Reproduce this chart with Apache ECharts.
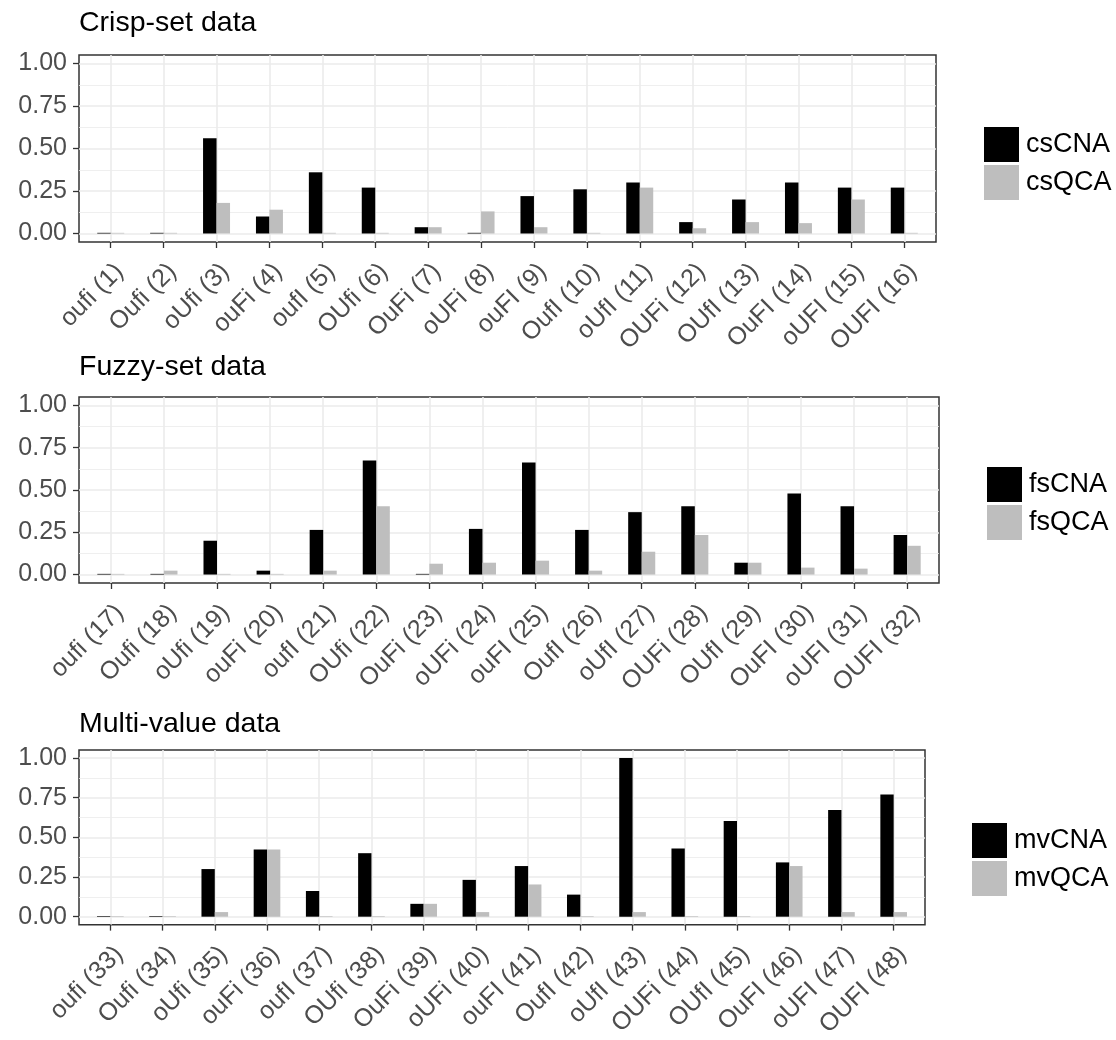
<!DOCTYPE html>
<html>
<head>
<meta charset="utf-8">
<script src="https://cdn.jsdelivr.net/npm/echarts@6.0.0/dist/echarts.min.js"></script>
<style>
html,body{margin:0;padding:0;background:#fff;}
#c{width:1116px;height:1040px;}
</style>
</head>
<body>
<div id="c"></div>
<script>
// ---- data ----
const csLabels = ['oufi (1)','Oufi (2)','oUfi (3)','ouFi (4)','oufI (5)','OUfi (6)','OuFi (7)','oUFi (8)','ouFI (9)','OufI (10)','oUfI (11)','OUFi (12)','OUfI (13)','OuFI (14)','oUFI (15)','OUFI (16)'];
const csCNA = [0.004,0.004,0.56,0.10,0.36,0.27,0.037,0.004,0.22,0.26,0.30,0.067,0.20,0.30,0.27,0.27];
const csQCA = [0.004,0.004,0.18,0.14,0.004,0.004,0.037,0.13,0.037,0.004,0.27,0.031,0.067,0.061,0.20,0.004];

const fsLabels = ['oufi (17)','Oufi (18)','oUfi (19)','ouFi (20)','oufI (21)','OUfi (22)','OuFi (23)','oUFi (24)','ouFI (25)','OufI (26)','oUfI (27)','OUFi (28)','OUfI (29)','OuFI (30)','oUFI (31)','OUFI (32)'];
const fsCNA = [0.004,0.004,0.20,0.023,0.264,0.674,0.004,0.27,0.662,0.264,0.369,0.404,0.07,0.48,0.404,0.234];
const fsQCA = [0.004,0.023,0.004,0.004,0.023,0.404,0.064,0.07,0.082,0.023,0.135,0.234,0.07,0.041,0.035,0.17];

const mvLabels = ['oufi (33)','Oufi (34)','oUfi (35)','ouFi (36)','oufI (37)','OUfi (38)','OuFi (39)','oUFi (40)','ouFI (41)','OufI (42)','oUfI (43)','OUFi (44)','OUfI (45)','OuFI (46)','oUFI (47)','OUFI (48)'];
const mvCNA = [0.004,0.004,0.30,0.423,0.162,0.40,0.081,0.232,0.319,0.139,1.0,0.429,0.602,0.342,0.672,0.77];
const mvQCA = [0.004,0.004,0.029,0.423,0.004,0.004,0.081,0.029,0.203,0.004,0.029,0.004,0.004,0.319,0.029,0.029];

const yTicks = [0, 0.25, 0.5, 0.75, 1];
const yMinor = [0.125, 0.375, 0.625, 0.875];
const titles = ['Crisp-set data','Fuzzy-set data','Multi-value data'];
const seriesNames = [['csCNA','csQCA'],['fsCNA','fsQCA'],['mvCNA','mvQCA']];

// ---- layout ----
const layout = [
  {labels: csLabels, a: csCNA, b: csQCA, top: 55, height: 187, width: 857, titleTop: 9, legLeft: 984, legTop: 127},
  {labels: fsLabels, a: fsCNA, b: fsQCA, top: 397, height: 186, width: 860, titleTop: 353, legLeft: 987, legTop: 467},
  {labels: mvLabels, a: mvCNA, b: mvQCA, top: 750, height: 189, width: 846, titleTop: 710, legLeft: 972, legTop: 823}
];

const FONT = '"Liberation Sans", Arial, Helvetica, sans-serif';
const grid = [], xAxis = [], yAxis = [], series = [], legend = [], title = [];
const grey = '#BEBEBE';

layout.forEach((p, i) => {
  const idx = p.labels.map((_, k) => k);
  grid.push({left: 79, top: p.top, width: p.width, height: p.height, show: true,
    borderColor: '#333333', borderWidth: 1.5, backgroundColor: 'transparent', containLabel: false});
  xAxis.push({
    gridIndex: i, type: 'value', min: -0.6, max: p.labels.length - 0.4, position: 'bottom',
    axisLine: {show: false, onZero: false},
    axisTick: {show: true, length: 6, customValues: idx, lineStyle: {color: '#333333', width: 1.3}},
    axisLabel: {customValues: idx, formatter: v => p.labels[Math.round(v)], rotate: 45,
      verticalAlign: 'top', align: 'right',
      fontSize: 25, color: '#4D4D4D', margin: 17, fontFamily: FONT},
    splitLine: {show: true, lineStyle: {color: '#EBEBEB', width: 1.6}}
  });
  yAxis.push({
    gridIndex: i, type: 'value', min: -0.05, max: 1.05, position: 'left',
    axisLine: {show: false, onZero: false},
    axisTick: {show: true, length: 6, customValues: yTicks, lineStyle: {color: '#333333', width: 1.3}},
    axisLabel: {customValues: yTicks, formatter: v => v.toFixed(2), fontSize: 25, color: '#4D4D4D', margin: 12, fontFamily: FONT},
    splitLine: {show: true, lineStyle: {color: '#EBEBEB', width: 1.6}}
  });
  yAxis.push({
    gridIndex: i, type: 'value', min: -0.05, max: 1.05, position: 'left',
    axisLine: {show: false, onZero: false},
    axisTick: {show: false, customValues: yMinor},
    axisLabel: {show: false, customValues: yMinor},
    splitLine: {show: true, lineStyle: {color: '#EBEBEB', width: 0.8}}
  });
  series.push({
    type: 'bar', name: seriesNames[i][0], xAxisIndex: i, yAxisIndex: 2 * i,
    data: p.a.map((v, k) => [k, v]),
    barWidth: '25.5%', barGap: '0%', itemStyle: {color: '#000000'}, emphasis: {disabled: true}
  });
  series.push({
    type: 'bar', name: seriesNames[i][1], xAxisIndex: i, yAxisIndex: 2 * i,
    data: p.b.map((v, k) => [k, v]),
    barWidth: '25.5%', barGap: '0%', itemStyle: {color: grey}, emphasis: {disabled: true}
  });
  legend.push({
    data: seriesNames[i], orient: 'vertical', left: p.legLeft, top: p.legTop, padding: 0,
    icon: 'rect', itemWidth: 35, itemHeight: 35, itemGap: 3, selectedMode: false,
    textStyle: {fontSize: 27, color: '#000000', fontFamily: FONT, padding: [0, 0, 0, 2]}
  });
  title.push({
    text: titles[i], left: 79, top: p.titleTop, padding: 0,
    textStyle: {fontSize: 28.5, fontWeight: 'normal', color: '#000000', fontFamily: FONT}
  });
});

const chart = echarts.init(document.getElementById('c'), null, {renderer: 'canvas'});
chart.setOption({
  backgroundColor: '#ffffff',
  animation: false,
  textStyle: {fontFamily: FONT},
  title, legend, grid, xAxis, yAxis, series
});
</script>
</body>
</html>
